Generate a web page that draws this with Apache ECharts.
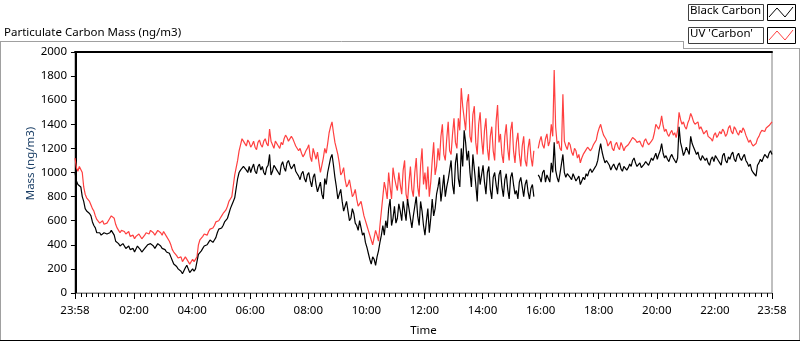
<!DOCTYPE html>
<html>
<head>
<meta charset="utf-8">
<script src="https://cdn.jsdelivr.net/npm/echarts@6/dist/echarts.min.js"></script>
<style>
  html, body { margin: 0; padding: 0; background: #fff; }
  #chart { width: 800px; height: 342px; }
</style>
</head>
<body>
<div id="chart"></div>
<script>
// samples every 3 minutes, starting 23:58 the day before (minute -2)
const sampleStart = -2;
const sampleStep = 3;

// Black Carbon (ng/m3), one row per 2 hours
const blackCarbon = [
    1000, 930, 900, 910, 880, 800, 760, 700, 680, 690, 660, 640, 590, 560, 540, 500, 490, 500, 480, 470, 500, 510, 490, 480, 500, 520, 510, 480, 430, 440, 410, 390, 400, 410, 390, 370, 380, 390, 360, 350, 370,
    340, 350, 390, 380, 360, 340, 330, 370, 380, 400, 390, 410, 420, 390, 370, 380, 410, 400, 390, 370, 380, 360, 340, 350, 330, 300, 270, 240, 250, 220, 200, 200, 180, 160, 170, 210, 230, 200, 170, 180,
    200, 180, 200, 260, 320, 330, 350, 370, 390, 380, 400, 420, 440, 430, 420, 440, 460, 500, 530, 520, 540, 560, 590, 600, 620, 660, 700, 730, 760, 790, 870, 950, 1000, 1020, 1030, 1050, 1060, 1020, 1000, 1050,
    1000, 1040, 1070, 1010, 990, 1050, 1070, 1020, 1050, 1000, 980, 1040, 1060, 1150, 980, 1010, 1060, 1040, 1020, 1000, 980, 1060, 1090, 1040, 1010, 1080, 1100, 1060, 1030, 1050, 1070, 1010, 990, 970, 940, 990, 1010, 950, 920, 980,
    1000, 930, 880, 960, 990, 900, 840, 880, 920, 820, 780, 950, 900, 1000, 1060, 1120, 1150, 1060, 960, 880, 780, 820, 860, 760, 680, 720, 760, 680, 600, 620, 700, 660, 580, 560, 520, 600, 540, 480, 500, 420,
    380, 330, 280, 240, 300, 280, 230, 300, 350, 420, 480, 560, 480, 600, 540, 700, 780, 560, 620, 720, 580, 620, 740, 680, 600, 760, 680, 600, 780, 700, 620, 540, 640, 720, 800, 640, 560, 760, 680, 560,
    480, 600, 700, 500, 620, 780, 640, 700, 820, 880, 960, 760, 860, 980, 800, 880, 940, 1020, 1100, 900, 820, 1080, 1160, 950, 880, 1200, 1050, 1350, 1250, 1100, 1180, 1000, 880, 1150, 1030, 900, 760, 1050, 900, 980,
    1060, 920, 820, 1000, 1050, 860, 780, 960, 1000, 900, 820, 980, 1020, 880, 800, 940, 990, 860, 780, 960, 1000, 900, 820, 850, 780, 920, 960, 880, 800, 900, 940, 840, 780, 870, 900, 800, null, null, 980, 960,
    920, 1000, 1020, 920, 980, 950, 920, 1080, 1000, 1250, 1020, 960, 920, 990, 980, 1150, 1000, 960, 990, 1000, 960, 940, 990, 980, 930, 950, 970, 900, 930, 960, 940, 990, 970, 1010, 1030, 1000, 990, 1040, 1060, 1100,
    1180, 1240, 1170, 1120, 1080, 1100, 1110, 1060, 1020, 1050, 1070, 1040, 1020, 1060, 1080, 1030, 1010, 1050, 1060, 1020, 1040, 1070, 1050, 1100, 1120, 1080, 1050, 1060, 1080, 1040, 1030, 1070, 1090, 1080, 1060, 1090, 1120, 1100, 1090, 1160,
    1110, 1150, 1180, 1240, 1160, 1120, 1140, 1110, 1090, 1130, 1150, 1120, 1100, 1080, 1120, 1380, 1250, 1200, 1140, 1170, 1210, 1180, 1150, 1300, 1240, 1210, 1180, 1150, 1170, 1120, 1100, 1140, 1150, 1100, 1120, 1080, 1060, 1110, 1130, 1090,
    1140, 1120, 1100, 1080, 1060, 1140, 1160, 1100, 1080, 1130, 1110, 1150, 1170, 1110, 1090, 1140, 1160, 1120, 1100, 1130, 1150, 1100, 1080, 1050, 1070, 1020, 1000, 990, 970, 1060, 1080, 1110, 1090, 1120, 1150, 1140, 1120, 1160, 1180, 1150
];

// UV 'Carbon' (ng/m3), one row per 2 hours
const uvCarbon = [
    1120, 1040, 1010, 1050, 1040, 1000, 880, 820, 790, 800, 760, 730, 700, 680, 640, 610, 600, 580, 590, 600, 570, 560, 580, 600, 620, 640, 650, 620, 570, 540, 520, 500, 520, 530, 510, 490, 500, 510, 470, 460, 480,
    450, 470, 460, 490, 480, 450, 440, 480, 500, 510, 490, 520, 530, 500, 480, 490, 520, 510, 500, 480, 510, 500, 470, 480, 430, 400, 360, 340, 330, 310, 290, 280, 300, 260, 250, 300, 290, 260, 240, 250,
    280, 260, 250, 300, 400, 440, 430, 470, 490, 500, 480, 510, 530, 520, 540, 560, 590, 580, 600, 620, 640, 660, 670, 690, 720, 760, 780, 800, 890, 980, 1040, 1100, 1180, 1230, 1280, 1260, 1240, 1220, 1270, 1250,
    1210, 1230, 1260, 1210, 1190, 1250, 1270, 1230, 1210, 1260, 1280, 1240, 1220, 1360, 1260, 1230, 1200, 1260, 1250, 1220, 1200, 1250, 1230, 1280, 1310, 1290, 1260, 1270, 1300, 1280, 1250, 1220, 1230, 1180, 1200, 1160, 1130, 1150, 1180, 1200,
    1230, 1130, 1090, 1200, 1210, 1110, 1170, 1080, 1000, 1060, 1120, 1200, 1160, 1240, 1330, 1380, 1420, 1330, 1250, 1200, 1150, 1080, 980, 1000, 1040, 940, 880, 900, 940, 870, 800, 820, 860, 780, 720, 740, 760, 700, 640, 600,
    560, 520, 480, 440, 400, 460, 520, 480, 430, 560, 680, 800, 920, 860, 780, 1000, 880, 780, 1040, 960, 900, 850, 1000, 900, 820, 1020, 1100, 820, 760, 920, 1050, 860, 800, 1000, 1120, 880, 800, 1060, 1200, 900,
    1000, 860, 1050, 800, 920, 1100, 1250, 980, 1050, 1200, 1100, 1300, 1400, 1150, 1100, 1280, 1420, 1180, 1150, 1320, 1450, 1250, 1200, 1450, 1350, 1700, 1550, 1450, 1350, 1580, 1650, 1300, 1250, 1480, 1550, 1250, 1150, 1400, 1500, 1280,
    1150, 1350, 1450, 1200, 1100, 1300, 1380, 1180, 1100, 1420, 1560, 1250, 1320, 1150, 1080, 1300, 1400, 1200, 1100, 1350, 1420, 1180, 1080, 1250, 1330, 1150, 1050, 1220, 1300, 1100, 1050, 1200, 1280, 1130, 1050, 1180, null, null, 1200, 1260,
    1300, 1230, 1200, 1280, 1320, 1220, 1260, 1400, 1300, 1850, 1380, 1240, 1260, 1200, 1180, 1650, 1260, 1220, 1190, 1250, 1230, 1170, 1140, 1200, 1180, 1120, 1150, 1080, 1120, 1150, 1160, 1190, 1210, 1220, 1180, 1200, 1230, 1250, 1270, 1330,
    1370, 1400, 1350, 1310, 1290, 1270, 1220, 1240, 1260, 1200, 1180, 1230, 1250, 1210, 1190, 1250, 1220, 1180, 1210, 1200, 1230, 1250, 1270, 1290, 1300, 1270, 1250, 1240, 1260, 1230, 1210, 1260, 1280, 1250, 1230, 1240, 1260, 1280, 1330, 1400,
    1380, 1360, 1400, 1470, 1390, 1340, 1360, 1320, 1300, 1330, 1350, 1310, 1330, 1290, 1350, 1500, 1440, 1400, 1420, 1380, 1360, 1410, 1440, 1490, 1460, 1420, 1400, 1390, 1420, 1360, 1380, 1350, 1320, 1330, 1350, 1300, 1310, 1280, 1260, 1310,
    1330, 1290, 1310, 1340, 1320, 1360, 1340, 1300, 1320, 1370, 1390, 1340, 1320, 1380, 1360, 1330, 1310, 1350, 1330, 1370, 1350, 1310, 1280, 1250, 1270, 1240, 1220, 1210, 1240, 1280, 1300, 1330, 1350, 1360, 1340, 1370, 1380, 1390, 1400, 1420
];

// x tick positions (minutes from midnight) and their labels
const tickMinutes = [-2, 120, 240, 360, 480, 600, 720, 840, 960, 1080, 1200, 1320, 1438];
const tickLabels = ['23:58', '02:00', '04:00', '06:00', '08:00', '10:00', '12:00', '14:00', '16:00', '18:00', '20:00', '22:00', '23:58'];

const FONT = 'Noto Sans';
const FS = 11.5;

function toPoints(values) {
    return values.map(function(v, i) {
        return [sampleStart + i * sampleStep, v];
    });
}

// minor ticks: 9 between each pair of labels, every 12 min
function minorTicks() {
    let out = [];
    for (let j = 0; j < tickMinutes.length - 1; j++) {
        for (let k = 1; k <= 9; k++) {
            out.push(tickMinutes[j] + 12 * k);
        }
    }
    return out;
}

let chart = echarts.init(document.getElementById('chart'), null, { renderer: 'canvas' });

let option = {
    animation: false,
    backgroundColor: '#fff',
    textStyle: { fontFamily: FONT },
    grid: {
        left: 75, right: 28, top: 52, bottom: 44,
        show: true,
        borderColor: '#808080',
        borderWidth: 1
    },
    xAxis: [{
        type: 'value',
        min: -2, max: 1438,
        position: 'bottom',
        axisLine: { show: true, lineStyle: { color: '#808080', width: 1 } },
        axisTick: { show: true, inside: false, length: 6, customValues: tickMinutes, lineStyle: { color: '#000', width: 1 } },
        axisLabel: {
            customValues: tickMinutes,
            color: '#000', fontSize: FS, fontFamily: FONT, margin: 12,
            formatter: function(val) {
                let idx = tickMinutes.indexOf(val);
                return idx >= 0 ? tickLabels[idx] : '';
            }
        },
        splitLine: { show: false },
        name: 'Time',
        nameLocation: 'middle',
        nameGap: 32,
        nameTextStyle: { color: '#000', fontSize: FS, fontFamily: FONT }
    }, {
        type: 'value',
        min: -2, max: 1438,
        position: 'bottom',
        axisLine: { show: false },
        axisTick: { show: true, inside: false, length: 4, customValues: minorTicks(), lineStyle: { color: '#000', width: 1 } },
        axisLabel: { show: false },
        splitLine: { show: false }
    }, {
        type: 'value',
        min: -2, max: 1438,
        position: 'top',
        axisLine: { show: true, lineStyle: { color: '#000', width: 2 } },
        axisTick: { show: false },
        axisLabel: { show: false },
        splitLine: { show: false }
    }],
    yAxis: {
        type: 'value',
        min: 0, max: 2000, interval: 200,
        axisLine: { show: true, lineStyle: { color: '#000', width: 2 } },
        axisTick: { show: true, inside: false, length: 5, lineStyle: { color: '#000', width: 1 } },
        axisLabel: {
            color: '#000', fontSize: FS, fontFamily: FONT, margin: 8,
            formatter: function(val) { return String(val); }
        },
        splitLine: { show: false },
        name: 'Mass (ng/m3)',
        nameLocation: 'middle',
        nameRotate: 90,
        nameGap: 38,
        nameMoveOverlap: false,
        nameTextStyle: { color: '#1b3f66', fontSize: FS, fontFamily: FONT, padding: [0, 0, 0, 18] }
    },
    series: [{
        name: "UV 'Carbon'",
        type: 'line',
        data: toPoints(uvCarbon),
        showSymbol: false,
        connectNulls: false,
        lineStyle: { color: '#ff4040', width: 1.2 },
        itemStyle: { color: '#ff4040' }
    }, {
        name: 'Black Carbon',
        type: 'line',
        data: toPoints(blackCarbon),
        showSymbol: false,
        connectNulls: false,
        lineStyle: { color: '#000', width: 1.2 },
        itemStyle: { color: '#000' }
    }],
    graphic: [
        // panel frame
        { type: 'line', shape: { x1: 0, y1: 41.5, x2: 683, y2: 41.5 }, style: { stroke: '#a0a0a0', lineWidth: 1 } },
        { type: 'line', shape: { x1: 683.5, y1: 41, x2: 683.5, y2: 48 }, style: { stroke: '#a0a0a0', lineWidth: 1 } },
        { type: 'line', shape: { x1: 683, y1: 48.5, x2: 800, y2: 48.5 }, style: { stroke: '#a0a0a0', lineWidth: 1 } },
        { type: 'line', shape: { x1: 0.5, y1: 41, x2: 0.5, y2: 341 }, style: { stroke: '#a0a0a0', lineWidth: 1 } },
        { type: 'line', shape: { x1: 799.5, y1: 48, x2: 799.5, y2: 341 }, style: { stroke: '#a0a0a0', lineWidth: 1 } },
        { type: 'line', shape: { x1: 0, y1: 340.5, x2: 800, y2: 340.5 }, style: { stroke: '#000', lineWidth: 1 } },
        // title
        { type: 'text', left: 4, top: 27, style: { text: 'Particulate Carbon Mass (ng/m3)', fill: '#000', font: FS + 'px "' + FONT + '"' } },
        // legend: Black Carbon
        { type: 'rect', shape: { x: 688.5, y: 4.5, width: 75, height: 16 }, style: { fill: '#fff', stroke: '#404040', lineWidth: 1 } },
        { type: 'text', left: 690, top: 5, style: { text: 'Black Carbon', fill: '#000', font: FS + 'px "' + FONT + '"' } },
        { type: 'rect', shape: { x: 767.5, y: 4.5, width: 28, height: 16 }, style: { fill: '#fff', stroke: '#000', lineWidth: 1 } },
        { type: 'polyline', shape: { points: [[769, 17], [777, 8], [785, 17], [793, 7]] }, style: { stroke: '#000', lineWidth: 1, fill: null } },
        // legend: UV 'Carbon'
        { type: 'rect', shape: { x: 688.5, y: 27.5, width: 75, height: 16 }, style: { fill: '#fff', stroke: '#404040', lineWidth: 1 } },
        { type: 'text', left: 690, top: 28, style: { text: "UV 'Carbon'", fill: '#000', font: FS + 'px "' + FONT + '"' } },
        { type: 'rect', shape: { x: 767.5, y: 27.5, width: 28, height: 16 }, style: { fill: '#fff', stroke: '#000', lineWidth: 1 } },
        { type: 'polyline', shape: { points: [[769, 40], [777, 31], [785, 40], [793, 30]] }, style: { stroke: '#ff4040', lineWidth: 1, fill: null } }
    ]
};

chart.setOption(option);
</script>
</body>
</html>
